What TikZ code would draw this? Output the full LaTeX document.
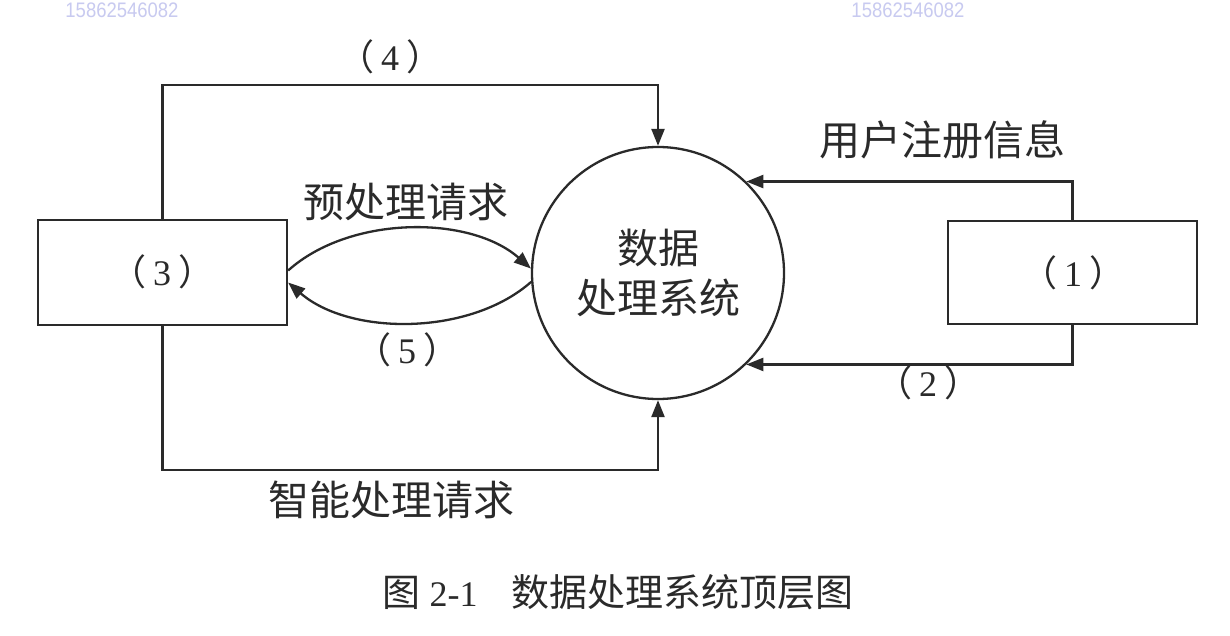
\documentclass[tikz,border=0pt]{standalone}
\usepackage{fontspec}
\setmainfont{Liberation Serif}
\setsansfont{Liberation Sans}
\newfontfamily\cjk{Noto Sans CJK SC}
\usetikzlibrary{arrows.meta}
\definecolor{wm}{HTML}{C8CAF0}
\definecolor{ink}{HTML}{2A2A2A}
\newcommand{\pn}[1]{{\cjk （}\hspace{7pt}#1\hspace{7pt}{\cjk ）}}
\begin{document}
\begin{tikzpicture}[x=1pt,y=-1pt,
  line/.style={line width=2.3pt, draw=ink},
  arr/.style={line, -{Triangle[length=17pt,width=13pt]}},
  box/.style={line, rectangle, inner sep=0pt},
  lbl/.style={font=\fontsize{41}{50}\selectfont\cjk, inner sep=0pt, text=ink},
  num/.style={font=\fontsize{36}{40}\selectfont, inner sep=0pt, text=ink},
  wmark/.style={font=\fontsize{21}{21}\selectfont\sffamily, text=wm, inner sep=0pt, xscale=0.88},
]
\useasboundingbox (0,0) rectangle (1230,636);
\fill[white] (0,0) rectangle (1230,636);

% watermarks
\node[wmark] (w1) at (122,10) {15862546082};
\node[wmark] (w2) at (908,10) {15862546082};

% nodes
\node[box, minimum width=249pt, minimum height=105pt] (b3) at (162.5,272.5) {};
\node[num] (l3) at (162,272) {\pn{3}};
\node[box, minimum width=249pt, minimum height=103pt] (b1) at (1072.5,272.5) {};
\node[num] (l1) at (1073,273) {\pn{1}};
\node[line, circle, minimum size=252pt, inner sep=0pt, align=center,
      font=\fontsize{41}{50}\selectfont\cjk, text=ink] (sys) at (658,273) {数据\\处理系统};

% coordinates
\coordinate (t4) at (658,85);
\coordinate (t6) at (658,470);

% connectors
\draw[arr] (b3.north) |- (t4) -- (sys.north);
\draw[arr] (b3.south) |- (t6) -- (sys.south);
\draw[arr] (b1.north) |- (sys.46.2);
\draw[arr] (b1.south) |- (sys.-46.2);
\draw[arr] ([yshift=2pt]b3.east) .. controls (350,215) and (470,215) .. (sys.178);
\draw[arr] (sys.184) .. controls (470,336) and (350,336) .. ([yshift=-10pt]b3.east);

% labels
\node[num] (l4) at (390,57) {\pn{4}};
\node[lbl] (reg) at (942,140) {用户注册信息};
\node[lbl] (pre) at (406,202) {预处理请求};
\node[num] (l5) at (407,350) {\pn{5}};
\node[num] (l2) at (928,383) {\pn{2}};
\node[lbl] (ai) at (391,500) {智能处理请求};
\node[inner sep=0pt, text=ink] (cap) at (618,592)
  {{\fontsize{38}{40}\selectfont\cjk 图}\fontsize{36}{40}\selectfont\ 2-1\hspace{34pt}{\fontsize{38}{40}\selectfont\cjk 数据处理系统顶层图}};
\end{tikzpicture}
\end{document}
